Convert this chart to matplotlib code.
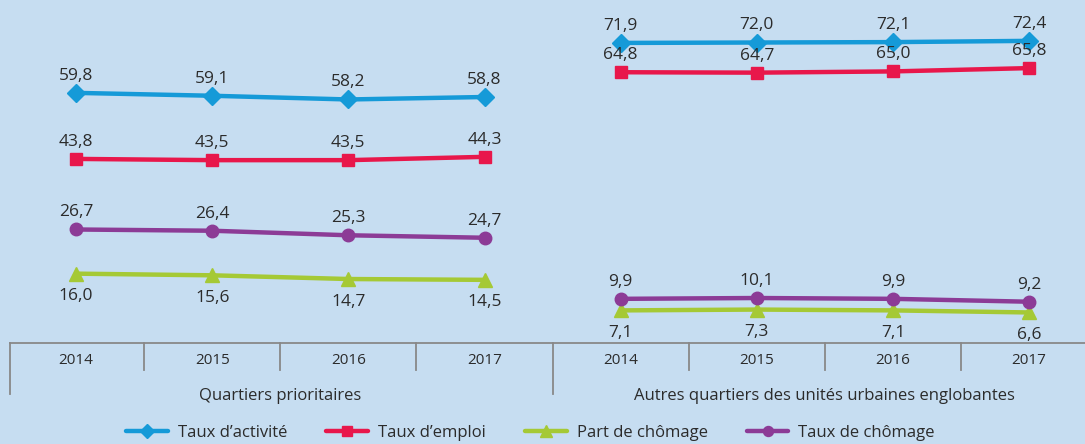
import matplotlib
matplotlib.use('Agg')
import matplotlib.pyplot as plt

years = ['2014', '2015', '2016', '2017']
groups = ['Quartiers prioritaires', 'Autres quartiers des unités urbaines englobantes']

series_names = ["Taux d\u2019activité", "Taux d\u2019emploi", "Part de chômage", "Taux de chômage"]
activite_qp = [59.8, 59.1, 58.2, 58.8]
activite_autres = [71.9, 72.0, 72.1, 72.4]
emploi_qp = [43.8, 43.5, 43.5, 44.3]
emploi_autres = [64.8, 64.7, 65.0, 65.8]
part_chom_qp = [16.0, 15.6, 14.7, 14.5]
part_chom_autres = [7.1, 7.3, 7.1, 6.6]
taux_chom_qp = [26.7, 26.4, 25.3, 24.7]
taux_chom_autres = [9.9, 10.1, 9.9, 9.2]

bg = '#c6ddf1'
txt = '#2b2b2b'
colors = ['#159ad8', '#e8174b', '#a5c935', '#8c3b96']
markers = ['D', 's', '^', 'o']
msizes = [9, 9, 10, 9]
above = [True, True, False, True]

plt.rcParams['font.family'] = ['Open Sans', 'DejaVu Sans']

fig = plt.figure(figsize=(10.85, 4.44), dpi=100, facecolor=bg)
ax = fig.add_axes([10 / 1085, 1 - 343 / 444, 1 - 10 / 1085, 343 / 444])
ax.set_facecolor(bg)

data = [(activite_qp, activite_autres), (emploi_qp, emploi_autres),
        (part_chom_qp, part_chom_autres), (taux_chom_qp, taux_chom_autres)]

x_left = [0, 1, 2, 3]
x_right = [4, 5, 6, 7]
handles = []
for i, (qp, autres) in enumerate(data):
    for xs, vals in ((x_left, qp), (x_right, autres)):
        h, = ax.plot(xs, vals, color=colors[i], lw=3.2, marker=markers[i],
                     ms=msizes[i], solid_capstyle='round', clip_on=False)
        for x, v in zip(xs, vals):
            lab = ('%.1f' % v).replace('.', ',')
            if above[i]:
                ax.annotate(lab, (x, v), xytext=(0, 6.5), textcoords='offset points',
                            ha='center', va='bottom', fontsize=12.5, color=txt)
            else:
                ax.annotate(lab, (x, v), xytext=(0, -10.5), textcoords='offset points',
                            ha='center', va='top', fontsize=12.5, color=txt)
    handles.append(h)

ax.set_xlim(-0.485, 7.41)
ax.set_ylim(-0.8, 82.3)
for s in ['top', 'right', 'left']:
    ax.spines[s].set_visible(False)
ax.spines['bottom'].set_color('#888888')
ax.spines['bottom'].set_linewidth(1.3)
ax.set_xticks([])
ax.set_yticks([])

tr = ax.get_xaxis_transform()
for xs in [0.5, 1.5, 2.5, 4.5, 5.5, 6.5]:
    ax.plot([xs, xs], [0, -0.079], transform=tr, color='#888888', lw=1.3, clip_on=False)
for xs in [-0.485, 3.5]:
    ax.plot([xs, xs], [0, -0.149], transform=tr, color='#888888', lw=1.3, clip_on=False)

for k, y in enumerate(years * 2):
    ax.text(k, -0.052, y, transform=tr, ha='center', va='center', fontsize=11, color=txt)
ax.text(1.5, -0.155, groups[0], transform=tr, ha='center', va='center', fontsize=12, color=txt)
ax.text(5.5, -0.155, groups[1], transform=tr, ha='center', va='center', fontsize=12, color=txt)

fig.legend(handles, series_names, loc='center', bbox_to_anchor=(0.489, 0.025), ncol=4,
           frameon=False, fontsize=12, handlelength=2.5, handletextpad=0.6,
           columnspacing=2.35, labelcolor=txt, markerscale=0.8)

fig.savefig('out.png', dpi=100, facecolor=bg)
